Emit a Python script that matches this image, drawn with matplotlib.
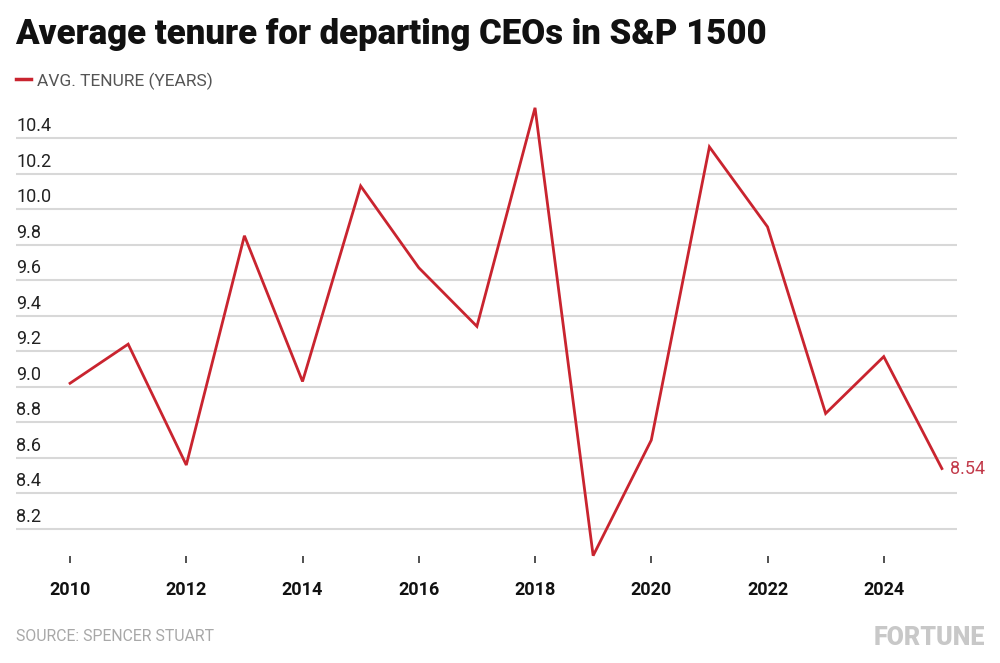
import matplotlib
matplotlib.use("Agg")
import matplotlib.pyplot as plt
import matplotlib.transforms as mtransforms

years = [2010, 2011, 2012, 2013, 2014, 2015, 2016, 2017, 2018, 2019, 2020, 2021, 2022, 2023, 2024, 2025]
tenure = [9.02, 9.24, 8.56, 9.85, 9.03, 10.13, 9.67, 9.34, 10.57, 8.05, 8.70, 10.35, 9.90, 8.85, 9.17, 8.54]
y_ticks = [8.2, 8.4, 8.6, 8.8, 9.0, 9.2, 9.4, 9.6, 9.8, 10.0, 10.2, 10.4]
x_ticks = [2010, 2012, 2014, 2016, 2018, 2020, 2022, 2024]

title = "Average tenure for departing CEOs in S&P 1500"
legend_label = "AVG. TENURE (YEARS)"
source = "SOURCE: SPENCER STUART"
end_label = "8.54"

RED = "#c9242f"
FONT = ["Roboto", "DejaVu Sans"]
plt.rcParams['font.family'] = FONT

W, H = 1000, 663
fig = plt.figure(figsize=(W / 100, H / 100), dpi=100)
fig.patch.set_facecolor("white")

def fx(px):
    return px / W

def fy(py):
    return 1 - py / H

ax = fig.add_axes([fx(16), fy(556), fx(957) - fx(16), fy(95) - fy(556)])
ax.set_xlim(2009.07, 2025.26)
ax.set_ylim(8.048, 10.642)

for v in y_ticks:
    ax.axhline(v, color="#d8d8d8", lw=1.5, zorder=1)

ax.plot(years, tenure, color=RED, lw=2.0, zorder=3, clip_on=False,
        solid_joinstyle="miter")

for s in ax.spines.values():
    s.set_visible(False)
ax.set_yticks([])
ax.set_xticks(x_ticks)
ax.set_xticklabels([str(x) for x in x_ticks], fontsize=13, fontweight="bold", color="#111111")
ax.tick_params(axis="x", length=5, width=1.2, color="#333333", pad=13, direction="out")

trans = mtransforms.blended_transform_factory(ax.transAxes, ax.transData)
offset = mtransforms.ScaledTranslation(0, 7 / 100, fig.dpi_scale_trans)
for v in y_ticks:
    ax.text(0, v, f"{v:.1f}", transform=trans + offset, ha="left", va="baseline",
            fontsize=13, color="#222222")

ax.annotate(end_label, (years[-1], tenure[-1]), xytext=(6, 0), textcoords="offset points",
            ha="left", va="center", fontsize=13, color="#c23a4a", annotation_clip=False)

fig.text(fx(15), fy(44), title, fontsize=25, fontweight="black", color="#111111",
         ha="left", va="baseline")
fig.add_artist(plt.Line2D([fx(16), fx(31)], [fy(79), fy(79)], color=RED, lw=2.5))
fig.text(fx(37), fy(86), legend_label, fontsize=12.5, color="#555555", ha="left", va="baseline")
fig.text(fx(16), fy(641), source, fontsize=11.4, color="#a8a8a8", ha="left", va="baseline")
fig.text(fx(985), fy(645), "FORTUNE", fontsize=18, fontweight="black", color="#c8c8c8",
         ha="right", va="baseline")

fig.savefig("out.png", dpi=100, facecolor="white")
